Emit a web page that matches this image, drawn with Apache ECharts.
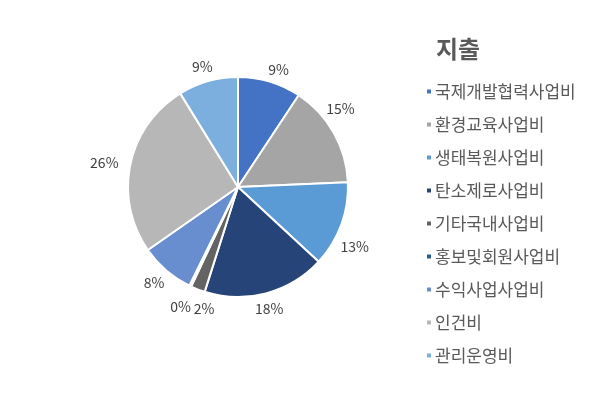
<!DOCTYPE html>
<html><head><meta charset="utf-8">
<script src="https://cdn.jsdelivr.net/npm/echarts@6/dist/echarts.min.js"></script>
<style>html,body{margin:0;padding:0;background:#fff}#c{width:604px;height:413px}</style>
</head><body><div id="c"></div>
<script>
const categories = ['국제개발협력사업비','환경교육사업비','생태복원사업비','탄소제로사업비','기타국내사업비','홍보및회원사업비','수익사업사업비','인건비','관리운영비'];
const values = [9.3, 15.0, 12.6, 18.0, 2.1, 0.3, 8.0, 25.9, 8.8];
const colors = ['#4472C4','#A5A5A5','#5B9BD5','#264478','#636363','#255E91','#698ED0','#B7B7B7','#7CAFDD'];
const titleText = '지출';
const FONT = '"Noto Sans CJK KR", "Noto Sans", sans-serif';
const total = values.reduce((a,b)=>a+b,0);
// label nudges (styling only) to mimic the original's best-fit label placement
const labelNudge = {0:[-5,0], 1:[-18,-18], 2:[-12,18], 3:[-14,4], 4:[21,8], 5:[6,10], 6:[6,3], 8:[8,-3]};
const chart = echarts.init(document.getElementById('c'), null, {renderer:'canvas'});
chart.setOption({
  animation:false,
  color: colors,
  title:{text:titleText, left:431, top:32, textStyle:{fontFamily:FONT, fontSize:24, fontWeight:'bold', color:'#595959'}},
  legend:{orient:'vertical', left:420, top:78, icon:'rect', itemWidth:6, itemHeight:6, itemGap:16,
    textStyle:{fontFamily:FONT, fontSize:17, color:'#595959', lineHeight:17, padding:[0,0,0,-2]},
    data: categories},
  series:[{
    type:'pie', center:[238,187], radius:110, startAngle:90, clockwise:true,
    avoidLabelOverlap:false,
    labelLayout:{hideOverlap:false},
    itemStyle:{borderColor:'#fff', borderWidth:2},
    label:{show:true, position:'outside', fontFamily:FONT, fontSize:14, color:'#404040',
      distanceToLabelLine:0,
      formatter:p=>Math.round(p.value/total*100)+'%'},
    labelLine:{show:false, length:12, length2:0},
    emphasis:{disabled:true},
    data: categories.map((n,i)=>{
      const d = {name:n, value:values[i]};
      if (labelNudge[i]) d.label = {offset: labelNudge[i]};
      return d;
    })
  }]
});
</script></body></html>
